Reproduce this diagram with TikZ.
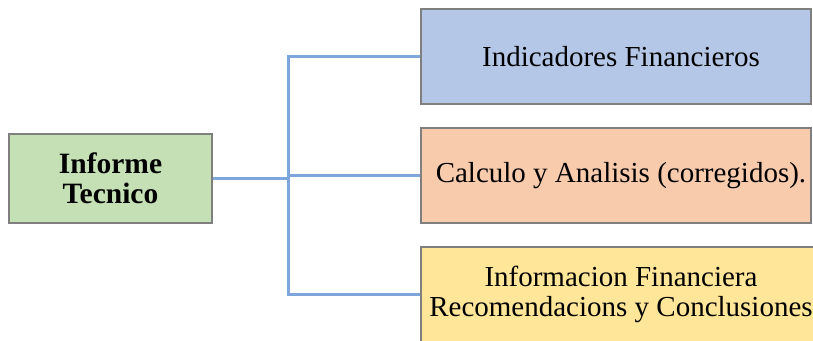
\documentclass[tikz,border=0pt]{standalone}
\usepackage{fontspec}
\setmainfont{Liberation Serif}
\definecolor{boxgreen}{HTML}{C5E0B4}
\definecolor{boxblue}{HTML}{B4C7E7}
\definecolor{boxorange}{HTML}{F8CBAD}
\definecolor{boxyellow}{HTML}{FFE699}
\definecolor{boxline}{HTML}{7F7F7F}
\definecolor{connblue}{HTML}{7EA6DC}
\tikzset{
  box/.style={draw=boxline, line width=1.2pt, inner sep=0pt, align=center,
    font=\fontsize{29}{30}\selectfont},
  leftbox/.style={box, minimum width=203pt, minimum height=89pt},
  rightbox/.style={box, minimum width=390pt, minimum height=95pt},
  conn/.style={draw=connblue, line width=3pt}
}
\begin{document}
\begin{tikzpicture}[x=1pt,y=-1pt]
\useasboundingbox (0,0) rectangle (813,340);
\fill[white] (0,0) rectangle (813,340);
\node[leftbox, fill=boxgreen, font=\fontsize{29.5}{29.5}\selectfont\bfseries] (inf) at (110.5,178.5) {Informe\\Tecnico};
\node[rightbox, fill=boxblue] (top) at (616,56.5) {\hspace*{10pt}Indicadores Financieros};
\node[rightbox, fill=boxorange] (mid) at (616,175.5) {\hspace*{10pt}Calculo y Analisis (corregidos).};
\node[rightbox, minimum width=409pt, fill=boxyellow] (bot) at (625.5,294.5) {\hspace*{-9pt}Informacion Financiera\\\hspace*{-9pt}Recomendacions y Conclusiones};
\coordinate (j) at ([xshift=76pt]inf.east);
\draw[conn] (inf.east) -- (j);
\draw[conn, line cap=rect] (j |- top.west) -- (j |- bot.west);
\draw[conn] (j |- top.west) -- (top.west);
\draw[conn] (j |- mid.west) -- (mid.west);
\draw[conn] (j |- bot.west) -- (bot.west);
\end{tikzpicture}
\end{document}
